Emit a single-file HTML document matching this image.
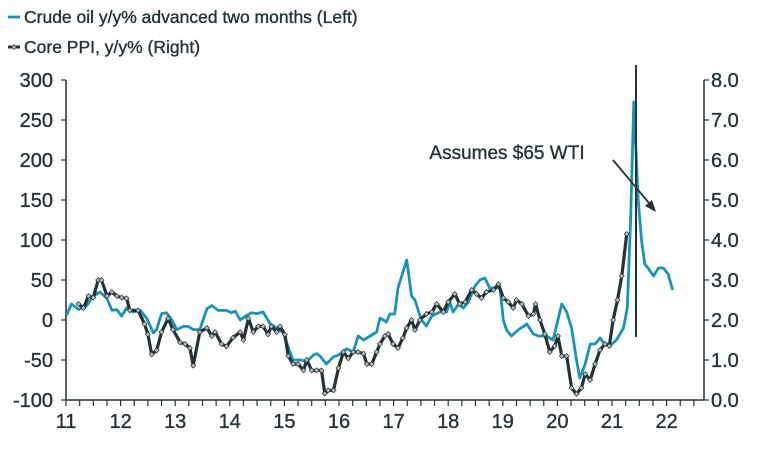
<!DOCTYPE html>
<html><head><meta charset="utf-8"><style>
html,body{margin:0;padding:0;background:#fff;}
svg{display:block;font-family:"Liberation Sans",sans-serif;}
</style></head><body>
<svg id="chart" width="767" height="460" viewBox="0 0 767 460"></svg>
<script>
const crudeDates=[11.01,11.10,11.23,11.38,11.50,11.62,11.75,11.84,11.93,12.02,12.11,12.23,12.36,12.48,12.60,12.66,12.75,12.84,12.94,13.03,13.15,13.24,13.33,13.45,13.58,13.67,13.79,13.94,14.03,14.10,14.19,14.31,14.40,14.49,14.61,14.74,14.86,14.98,15.10,15.16,15.29,15.41,15.53,15.59,15.65,15.77,15.90,15.99,16.14,16.26,16.35,16.45,16.57,16.69,
16.75,16.87,16.93,17.02,17.08,17.24,17.33,17.39,17.51,17.60,17.70,17.85,17.97,18.03,18.09,18.19,18.28,18.37,18.49,18.58,18.67,18.76,18.86,18.95,19.01,19.07,19.16,19.28,19.44,19.56,19.65,19.80,19.92,20.08,20.17,20.26,20.35,20.41,20.51,20.60,20.69,20.78,20.87,21.00,21.08,21.21,21.28,21.34,21.40,21.48,21.54,21.60,21.66,21.76,21.85,21.94,22.03,22.11];
const crudeValues=[6,20,13,18,30,35,27,12,13,5,15,10,12,2,-16,-12,8,9,0,-12,-8,-8,-12,-12,14,18,12,12,9,11,0,6,9,8,10,-5,-10,-16,-40,-50,-50,-52,-44,-42,-45,-55,-46,-44,-36,-40,-20,-25,-20,-15,
2.5,-2.5,7.5,7.5,40,75,30,25,0,-7.5,5,10,10,22.5,10,20,15,22.5,42.5,50,52.5,40,40,40,0,-12.5,-20,-12.5,-5,-17.5,-20,-20,-25,20,10,-10,-50,-72.5,-55,-30,-30,-22.5,-30,-30,-25,-10,15,125,272.5,150,100,70,65,55,65,65,57.5,37.5];
const ppiDates=[11.23,11.32,11.41,11.50,11.59,11.65,11.75,11.84,11.93,12.02,12.11,12.17,12.32,12.44,12.50,12.57,12.66,12.75,12.87,12.96,13.09,13.18,13.27,13.33,13.45,13.58,13.67,13.73,13.85,13.94,14.06,14.19,14.25,14.34,14.43,14.52,14.61,14.70,14.76,14.86,14.92,15.01,15.07,15.16,15.25,15.35,15.41,15.50,15.59,15.68,15.74,15.80,15.90,15.99,16.08,16.17,16.26,16.35,16.45,16.51,16.60,16.69,
16.75,16.84,16.90,16.99,17.08,17.17,17.24,17.33,17.39,17.48,17.60,17.70,17.79,17.91,18.00,18.12,18.21,18.31,18.43,18.52,18.61,18.70,18.83,18.92,19.01,19.10,19.19,19.25,19.35,19.47,19.56,19.60,19.68,19.77,19.86,19.95,20.01,20.08,20.17,20.26,20.35,20.44,20.51,20.60,20.69,20.78,20.87,20.95,21.02,21.10,21.18,21.27];
const ppiValues=[2.4,2.3,2.6,2.56,3.0,3.0,2.6,2.7,2.6,2.56,2.54,2.24,2.24,1.9,1.64,1.14,1.24,1.7,2.04,1.76,1.44,1.4,1.3,0.86,1.7,1.8,1.6,1.7,1.4,1.34,1.56,1.7,1.5,2.04,1.7,1.84,1.84,1.64,1.84,1.7,1.84,1.64,1.1,0.9,0.9,0.74,1.0,0.74,0.74,0.74,0.16,0.24,0.24,0.8,1.2,1.04,1.2,1.2,1.16,0.9,0.9,1.2,
1.4,1.6,1.65,1.4,1.3,1.55,1.8,2.0,1.75,2.0,2.15,2.2,2.4,2.2,2.45,2.65,2.4,2.45,2.75,2.65,2.55,2.7,2.75,2.9,2.55,2.45,2.3,2.5,2.4,2.1,2.15,2.4,2.0,1.65,1.2,1.35,1.6,1.1,1.1,0.3,0.15,0.3,0.65,0.5,0.9,1.25,1.4,1.35,2.0,2.5,3.1,4.15];
const leftTicks=[300,250,200,150,100,50,0,-50,-100];
const rightTicks=["8.0","7.0","6.0","5.0","4.0","3.0","2.0","1.0","0.0"];
const yearLabels=["11","12","13","14","15","16","17","18","19","20","21","22"];

const NS="http://www.w3.org/2000/svg";
const svg=document.getElementById('chart');
const X0=66,X1=704,Y0=400,Y1=80;
const xs=y=>X0+(y-11)*54.6;
const yl=v=>320-v*0.8;
const yr=v=>400-v*40;
function mk(t,a,p){const e=document.createElementNS(NS,t);for(const k in a)e.setAttribute(k,a[k]);(p||svg).appendChild(e);return e;}
const DARK="#243238",TEAL="#1993b6";
const TXT={fill:DARK,stroke:DARK,'stroke-width':0.35};

let e=mk('line',{x1:X0,y1:Y1,x2:X0,y2:Y0,stroke:DARK,'stroke-width':1.5});

e=mk('line',{x1:X1,y1:Y1,x2:X1,y2:Y0,stroke:DARK,'stroke-width':1.5});

e=mk('line',{x1:X0,y1:Y0,x2:X1,y2:Y0,stroke:DARK,'stroke-width':1.5});


leftTicks.forEach(v=>{
  mk('line',{x1:X0-5,y1:yl(v),x2:X0,y2:yl(v),stroke:DARK,'stroke-width':1.2});
  const t=mk('text',Object.assign({x:53,y:yl(v)+7,'text-anchor':'end','font-size':20},TXT));
  t.textContent=v;
  
  
});
rightTicks.forEach((s,i)=>{
  const y=yr(8-i);
  mk('line',{x1:X1,y1:y,x2:X1+5,y2:y,stroke:DARK,'stroke-width':1.2});
  const t=mk('text',Object.assign({x:711,y:y+7,'font-size':20},TXT));
  t.textContent=s;
  
  
});
for(let q=0;q*0.25<=11.67;q++){
  const x=xs(11+q*0.25);
  mk('line',{x1:x,y1:Y0,x2:x,y2:Y0+6,stroke:DARK,'stroke-width':1.2});
}
yearLabels.forEach((s,i)=>{
  const t=mk('text',Object.assign({x:xs(11+i),y:428,'text-anchor':'middle','font-size':20},TXT));
  t.textContent=s;
  
  
});

let d=crudeDates.map((y,i)=>(i?'L':'M')+xs(y).toFixed(1)+','+yl(crudeValues[i]).toFixed(1)).join('');
e=mk('path',{d:d,fill:'none',stroke:TEAL,'stroke-width':2.8,'stroke-linejoin':'round'});


d=ppiDates.map((y,i)=>(i?'L':'M')+xs(y).toFixed(1)+','+yr(ppiValues[i]).toFixed(1)).join('');
e=mk('path',{d:d,fill:'none',stroke:DARK,'stroke-width':3.2,'stroke-linejoin':'round'});

const g=mk('g',{});

ppiDates.forEach((y,i)=>{
  const x=xs(y),yy=yr(ppiValues[i]);
  const m=mk('path',{d:`M${x},${yy-2.5}L${x+2.5},${yy}L${x},${yy+2.5}L${x-2.5},${yy}Z`,fill:'#bbb',stroke:DARK,'stroke-width':0.7},g);
  
  
});

e=mk('line',{x1:636,y1:65,x2:636,y2:337,stroke:DARK,'stroke-width':2});


e=mk('text',Object.assign({x:507,y:159,'text-anchor':'middle','font-size':19},TXT));
e.textContent='Assumes $65 WTI';

e=mk('line',{x1:613,y1:160,x2:654,y2:209,stroke:DARK,'stroke-width':1.8});

mk('path',{d:'M656,212 L645,206 L652,200 Z',fill:DARK});

const lg=mk('g',{});

mk('line',{x1:8,y1:17,x2:20,y2:17,stroke:TEAL,'stroke-width':2.8},lg);
e=mk('text',Object.assign({x:24,y:23,'font-size':17.5},TXT),lg);
e.textContent='Crude oil y/y% advanced two months (Left)';

mk('line',{x1:8,y1:47,x2:20,y2:47,stroke:DARK,'stroke-width':3},lg);
mk('path',{d:'M14,44.5L16.5,47L14,49.5L11.5,47Z',fill:'#bbb',stroke:DARK,'stroke-width':0.7},lg);
e=mk('text',Object.assign({x:24,y:53,'font-size':17.5},TXT),lg);
e.textContent='Core PPI, y/y% (Right)';

</script>
</body></html>
